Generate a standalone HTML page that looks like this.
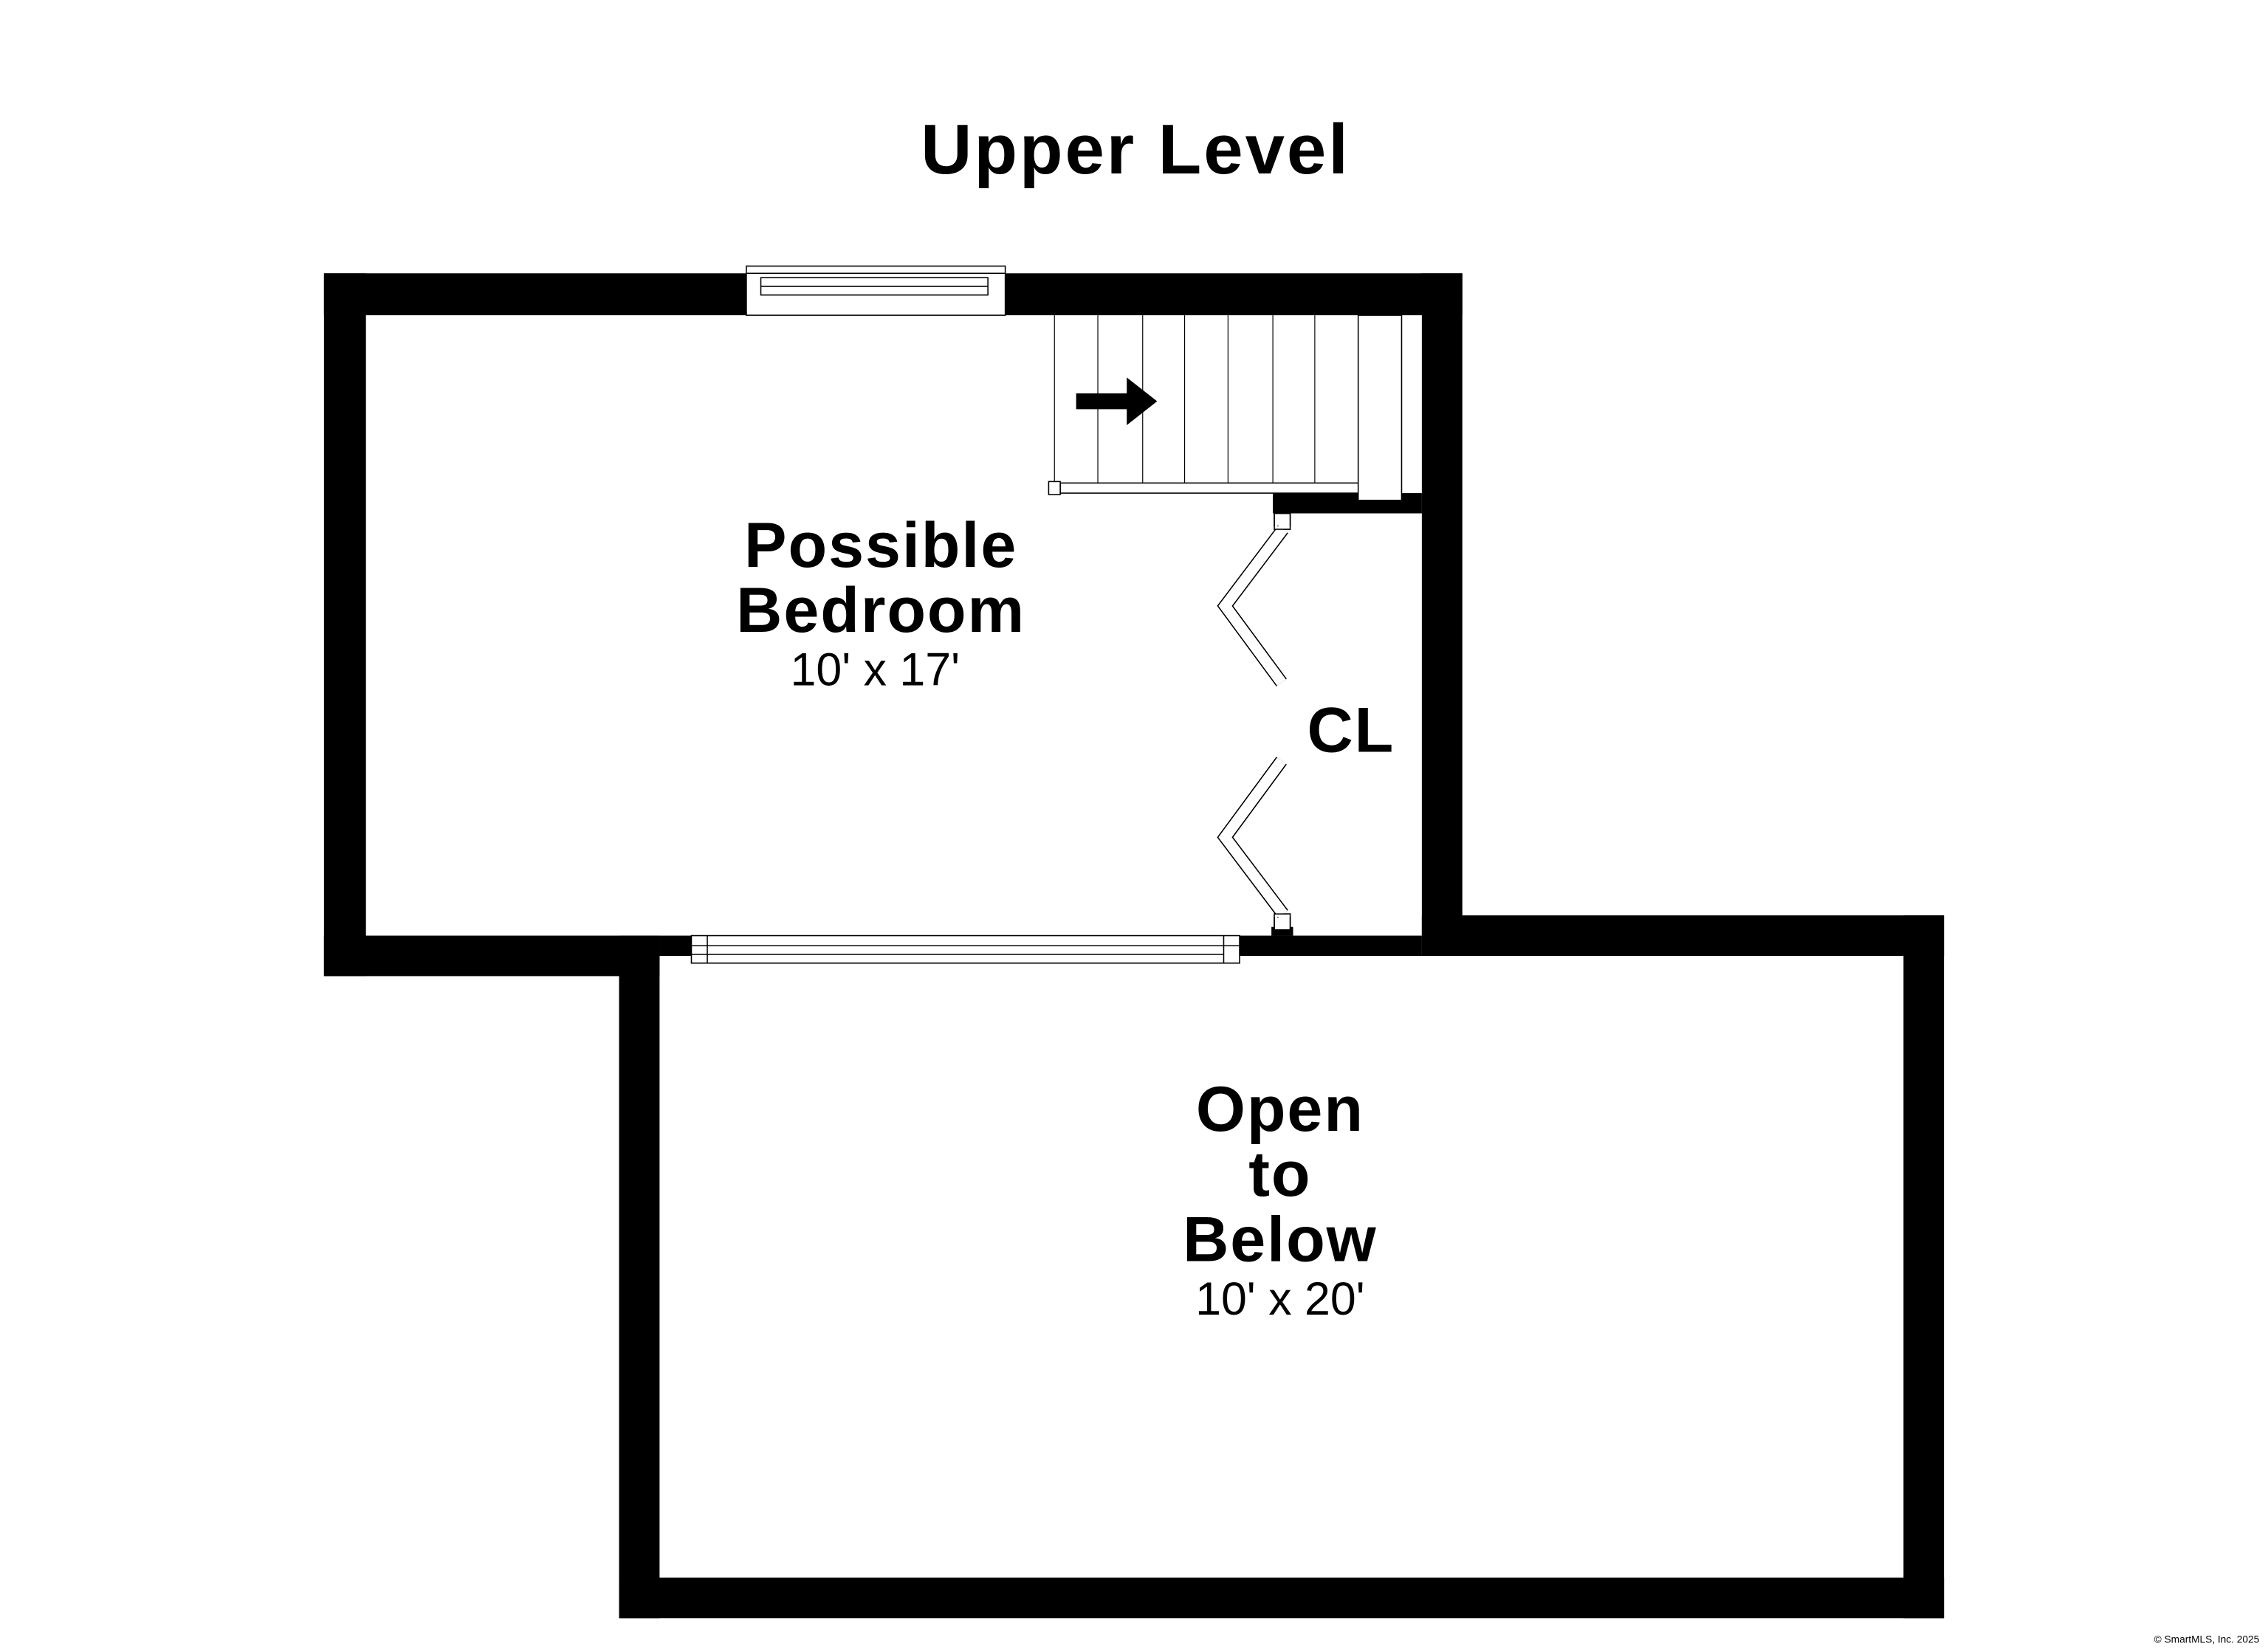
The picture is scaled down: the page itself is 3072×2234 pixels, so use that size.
<!DOCTYPE html>
<html><head><meta charset="utf-8"><style>
html,body{margin:0;padding:0;background:#fff;}
svg{display:block;}
text{font-family:"Liberation Sans",sans-serif;fill:#000;}
</style></head><body>
<svg width="3072" height="2234" viewBox="0 0 1568 1140.3" preserveAspectRatio="none" xmlns="http://www.w3.org/2000/svg">
<rect width="1568" height="1141" fill="#fff"/>
<text x="785" y="120" font-size="49" font-weight="bold" text-anchor="middle" letter-spacing="1.5">Upper Level</text>
<g fill="#000">
<rect x="224" y="189" width="292" height="29"/>
<rect x="695" y="189" width="316" height="29"/>
<rect x="224" y="189" width="29" height="486"/>
<rect x="224" y="647" width="232" height="28"/>
<rect x="983" y="189" width="28" height="472"/>
<rect x="983" y="633" width="361" height="28"/>
<rect x="1316" y="633" width="28" height="486"/>
<rect x="428" y="1091" width="916" height="28"/>
<rect x="428" y="647" width="28" height="472"/>
<rect x="456" y="647" width="527" height="14"/>
<rect x="880" y="341" width="103" height="14"/>
<rect x="879" y="641" width="15" height="6"/>
</g>
<g fill="#fff" stroke="#000" stroke-width="0.8">
<rect x="516" y="184" width="179" height="34"/>
<line x1="516" y1="189" x2="695" y2="189"/>
<rect x="526" y="192" width="157" height="12"/>
<line x1="526" y1="198" x2="683" y2="198"/>
<rect x="478" y="647" width="379" height="19"/>
<line x1="478" y1="654" x2="857" y2="654"/>
<line x1="478" y1="660" x2="846" y2="660"/>
<line x1="846" y1="647" x2="846" y2="666"/>
<line x1="489" y1="647" x2="489" y2="666"/>
</g>
<g stroke="#000" stroke-width="0.6">
<line x1="729" y1="218" x2="729" y2="336"/>
<line x1="759" y1="218" x2="759" y2="334"/>
<line x1="790" y1="218" x2="790" y2="334"/>
<line x1="819" y1="218" x2="819" y2="334"/>
<line x1="849" y1="218" x2="849" y2="334"/>
<line x1="880" y1="218" x2="880" y2="334"/>
<line x1="909" y1="218" x2="909" y2="334"/>
<line x1="939" y1="218" x2="939" y2="334"/>
<line x1="969" y1="218" x2="969" y2="341"/>
</g>
<g fill="#fff" stroke="#000" stroke-width="0.8">
<rect x="733" y="334" width="207" height="7"/>
<rect x="725" y="333" width="8" height="9"/>
<rect x="939" y="218" width="30" height="128"/>
<rect x="881" y="355" width="11" height="11"/>
<rect x="881" y="632" width="11" height="11"/>
</g>
<polygon points="744,272 779,272 779,261 800,277.5 779,294 779,283 744,283" fill="#000"/>
<g fill="none" stroke-linejoin="miter">
<polyline points="887,366 847,419 886,472" stroke="#000" stroke-width="9"/>
<polyline points="887,366 847,419 886,472" stroke="#fff" stroke-width="7.4"/>
<polyline points="886,526 847,579 887,632" stroke="#000" stroke-width="9"/>
<polyline points="886,526 847,579 887,632" stroke="#fff" stroke-width="7.4"/>
</g>
<rect x="879" y="364" width="15" height="2" fill="#fff"/>
<rect x="879" y="632" width="15" height="2" fill="#fff"/>
<rect x="881" y="355" width="11" height="11" fill="none" stroke="#000" stroke-width="0.8"/>
<rect x="881" y="632" width="11" height="11" fill="none" stroke="#000" stroke-width="0.8"/>
<g font-weight="bold" font-size="44" text-anchor="middle" letter-spacing="1">
<text x="609" y="392">Possible</text>
<text x="609" y="437">Bedroom</text>
<text x="934" y="520">CL</text>
<text x="885" y="782">Open</text>
<text x="885" y="827">to</text>
<text x="885" y="872">Below</text>
</g>
<g font-size="32" text-anchor="middle">
<text x="605" y="474">10' x 17'</text>
<text x="885" y="909">10' x 20'</text>
</g>
<text x="1562" y="1136" font-size="7" text-anchor="end" fill="#555">© SmartMLS, Inc. 2025</text>
</svg>
</body></html>
